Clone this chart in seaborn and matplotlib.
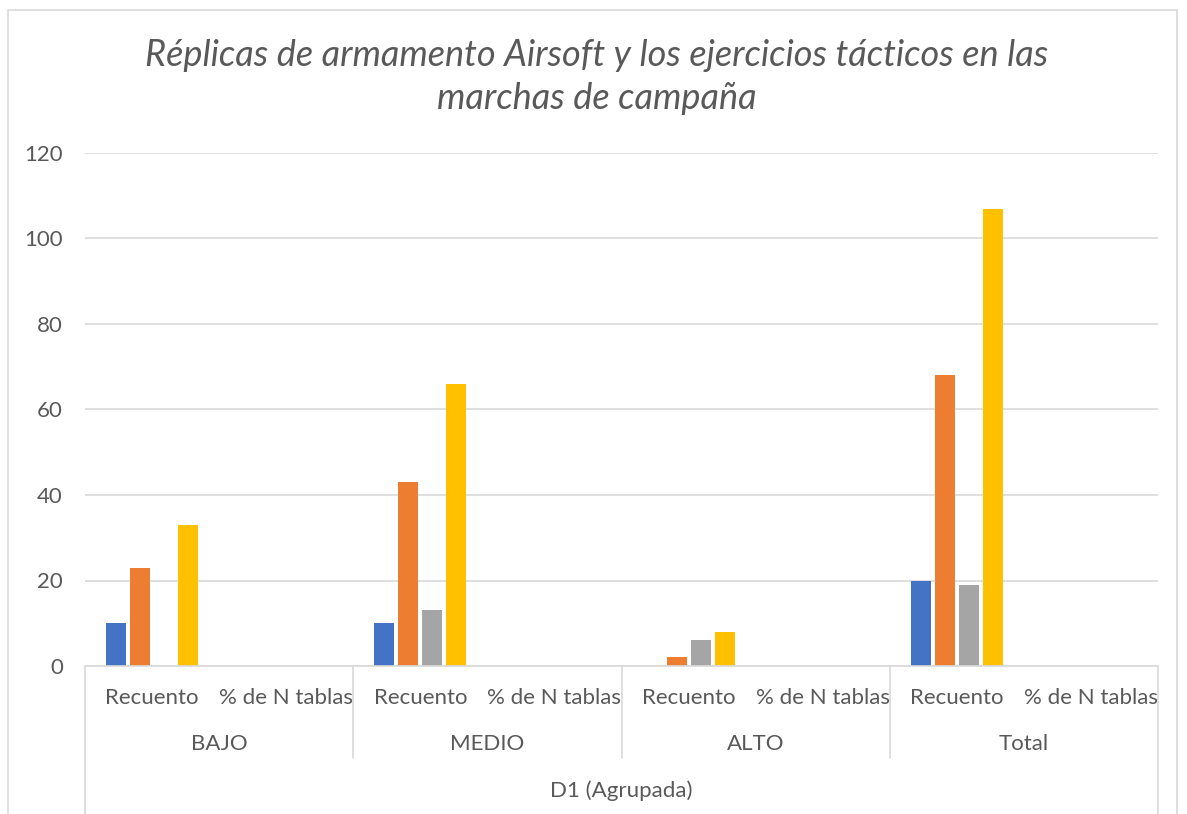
import matplotlib
matplotlib.use("Agg")
import matplotlib.pyplot as plt
import matplotlib.transforms as mtransforms
import seaborn as sns
import pandas as pd
from matplotlib.patches import Rectangle
from matplotlib.lines import Line2D

# ---- data ----
groups = ["BAJO", "MEDIO", "ALTO", "Total"]
measures = ["Recuento", "% de N tablas"]
series = ["Serie 1", "Serie 2", "Serie 3", "Serie 4"]
colors = ["#4472C4", "#ED7D31", "#A5A5A5", "#FFC000"]
# values per category (group x measure) for each series
serie1 = [10, 0, 10, 0, 0, 0, 20, 0]
serie2 = [23, 0, 43, 0, 2, 0, 68, 0]
serie3 = [0, 0, 13, 0, 6, 0, 19, 0]
serie4 = [33, 0, 66, 0, 8, 0, 107, 0]
title = "Réplicas de armamento Airsoft y los ejercicios tácticos en las\nmarchas de campaña"
outer_label = "D1 (Agrupada)"
yticks = [0, 20, 40, 60, 80, 100, 120]

cats = [f"{g}|{m}" for g in groups for m in measures]
rows = []
for s, vals in zip(series, [serie1, serie2, serie3, serie4]):
    for c, v in zip(cats, vals):
        rows.append({"cat": c, "serie": s, "valor": v})
df = pd.DataFrame(rows)

W, H = 1187, 814
sns.set_theme(style="white")
plt.rcParams["font.family"] = ["Lato", "DejaVu Sans"]
txt = "#595959"
grid = "#D9D9D9"
fs = 16

fig = plt.figure(figsize=(W / 100, H / 100), dpi=100)
fig.patch.set_facecolor("white")

def fx(px):
    return px / W

def fy(py):
    return (H - py) / H

ax = fig.add_axes([fx(85), fy(666), fx(1158) - fx(85), fy(153) - fy(666)])

sns.barplot(data=df, x="cat", y="valor", hue="serie", order=cats, hue_order=series,
            palette=colors, width=0.716, gap=0.17, saturation=1, ax=ax,
            legend=False, edgecolor="none", errorbar=None)

ax.set_ylim(0, 120)
ax.set_xlim(-0.5, len(cats) - 0.5)
ax.set_yticks(yticks)
ax.yaxis.grid(True, color=grid, linewidth=1.2)
ax.set_axisbelow(True)
for sp in ["top", "right", "left"]:
    ax.spines[sp].set_visible(False)
ax.spines["bottom"].set_color(grid)
ax.spines["bottom"].set_linewidth(1.2)
ax.set_xlabel("")
ax.set_ylabel("")
ax.tick_params(axis="y", length=0, pad=16, labelsize=fs, labelcolor=txt)
ax.set_xticks(range(len(cats)))
ax.set_xticklabels([c.split("|")[1] for c in cats])
ax.tick_params(axis="x", length=0, pad=16, labelsize=fs, labelcolor=txt)

# category divider lines
for i in range(len(groups) + 1):
    x = i * 2 - 0.5
    xf = fx(85) + (fx(1158) - fx(85)) * (x + 0.5) / len(cats)
    y_end = fy(830) if i in (0, len(groups)) else fy(758)
    fig.add_artist(Line2D([xf, xf], [fy(666), y_end], color=grid, linewidth=1.2))

# group labels
blend = mtransforms.blended_transform_factory(ax.transData, fig.transFigure)
for i, g in enumerate(groups):
    ax.text(i * 2 + 0.5, fy(744), g, transform=blend,
            ha="center", va="center", fontsize=fs, color=txt)

fig.text((fx(85) + fx(1158)) / 2, fy(791), outer_label, ha="center", va="center",
         fontsize=fs, color=txt)

fig.text(fx(597), fy(77), title, ha="center", va="center", fontsize=26,
         style="italic", color=txt, linespacing=1.38)

# outer border
fig.add_artist(Rectangle((fx(8), fy(830)), fx(1177) - fx(8), fy(10) - fy(830),
                         fill=False, edgecolor=grid, linewidth=1.2, clip_on=False))

fig.savefig("out.png", dpi=100, facecolor="white")
